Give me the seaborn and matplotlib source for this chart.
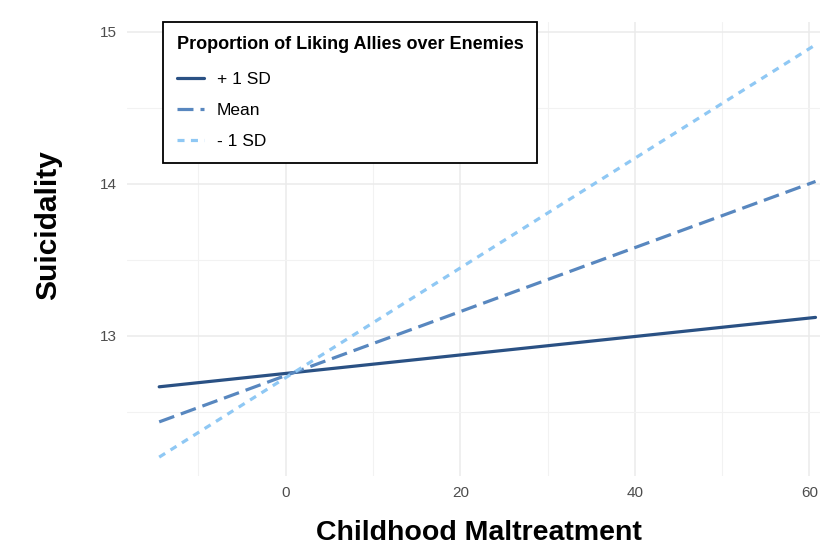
import matplotlib
matplotlib.use("Agg")
import matplotlib.pyplot as plt
from matplotlib.ticker import MultipleLocator
import pandas as pd
import seaborn as sns

# Simple slopes: predicted suicidality at the ends of the maltreatment range
maltreatment = [-14.5, 60.7]
plus_1sd = [12.663, 13.12]
mean_level = [12.432, 14.015]
minus_1sd = [12.20, 14.915]
levels = ["+ 1 SD", "Mean", "- 1 SD"]

df = pd.DataFrame({
    "x": maltreatment * 3,
    "y": plus_1sd + mean_level + minus_1sd,
    "level": [levels[0]] * 2 + [levels[1]] * 2 + [levels[2]] * 2,
})

sns.set_theme(style="white")
plt.rcParams["font.family"] = ["Liberation Sans", "DejaVu Sans"]
plt.rcParams["text.color"] = "black"

fig = plt.figure(figsize=(8.24, 5.46), dpi=100)
ax = fig.add_axes([0.154, 0.128, 0.841, 0.832])

palette = {"+ 1 SD": "#2a5184", "Mean": "#5887bf", "- 1 SD": "#8fc8f4"}
dashes = {"+ 1 SD": "", "Mean": (5, 2.2), "- 1 SD": (2.2, 2)}

sns.lineplot(data=df, x="x", y="y", hue="level", style="level",
             hue_order=levels, style_order=levels,
             palette=palette, dashes=dashes, linewidth=2.3, ax=ax)

ax.set_xlim(-18.2, 61.2)
ax.set_ylim(12.075, 15.066)
ax.xaxis.set_major_locator(MultipleLocator(20))
ax.xaxis.set_minor_locator(MultipleLocator(10))
ax.yaxis.set_major_locator(MultipleLocator(1))
ax.yaxis.set_minor_locator(MultipleLocator(0.5))
ax.grid(which="major", color="#ebebeb", linewidth=1.1)
ax.grid(which="minor", color="#f2f2f2", linewidth=0.8)
ax.set_axisbelow(True)
for s in ax.spines.values():
    s.set_visible(False)
ax.tick_params(which="both", length=0, labelsize=11, labelcolor="#4d4d4d", pad=7)

ax.set_xlabel("")
ax.set_ylabel("")
fig.text(479 / 824, 1 - 533 / 546, "Childhood Maltreatment", fontsize=20.5,
         fontweight="bold", color="black", ha="center", va="center")
fig.text(48 / 824, 1 - 225 / 546, "Suicidality", fontsize=21.5,
         fontweight="bold", color="black", ha="center", va="center", rotation=90)

leg = ax.legend(title="Proportion of Liking Allies over Enemies", loc="upper left",
                bbox_to_anchor=(0.052, 1.0), frameon=True, fancybox=False,
                fontsize=12.5, title_fontsize=13, handlelength=1.55,
                labelspacing=0.93, borderpad=0.8, handletextpad=0.75,
                borderaxespad=0)
leg.get_title().set_fontweight("bold")
leg.get_title().set_color("black")
for t in leg.get_texts():
    t.set_color("black")
leg._legend_box.align = "left"
leg._legend_box.sep = 13.5
frame = leg.get_frame()
frame.set_edgecolor("black")
frame.set_linewidth(1.3)
frame.set_alpha(1)

fig.savefig("out.png", dpi=100)
